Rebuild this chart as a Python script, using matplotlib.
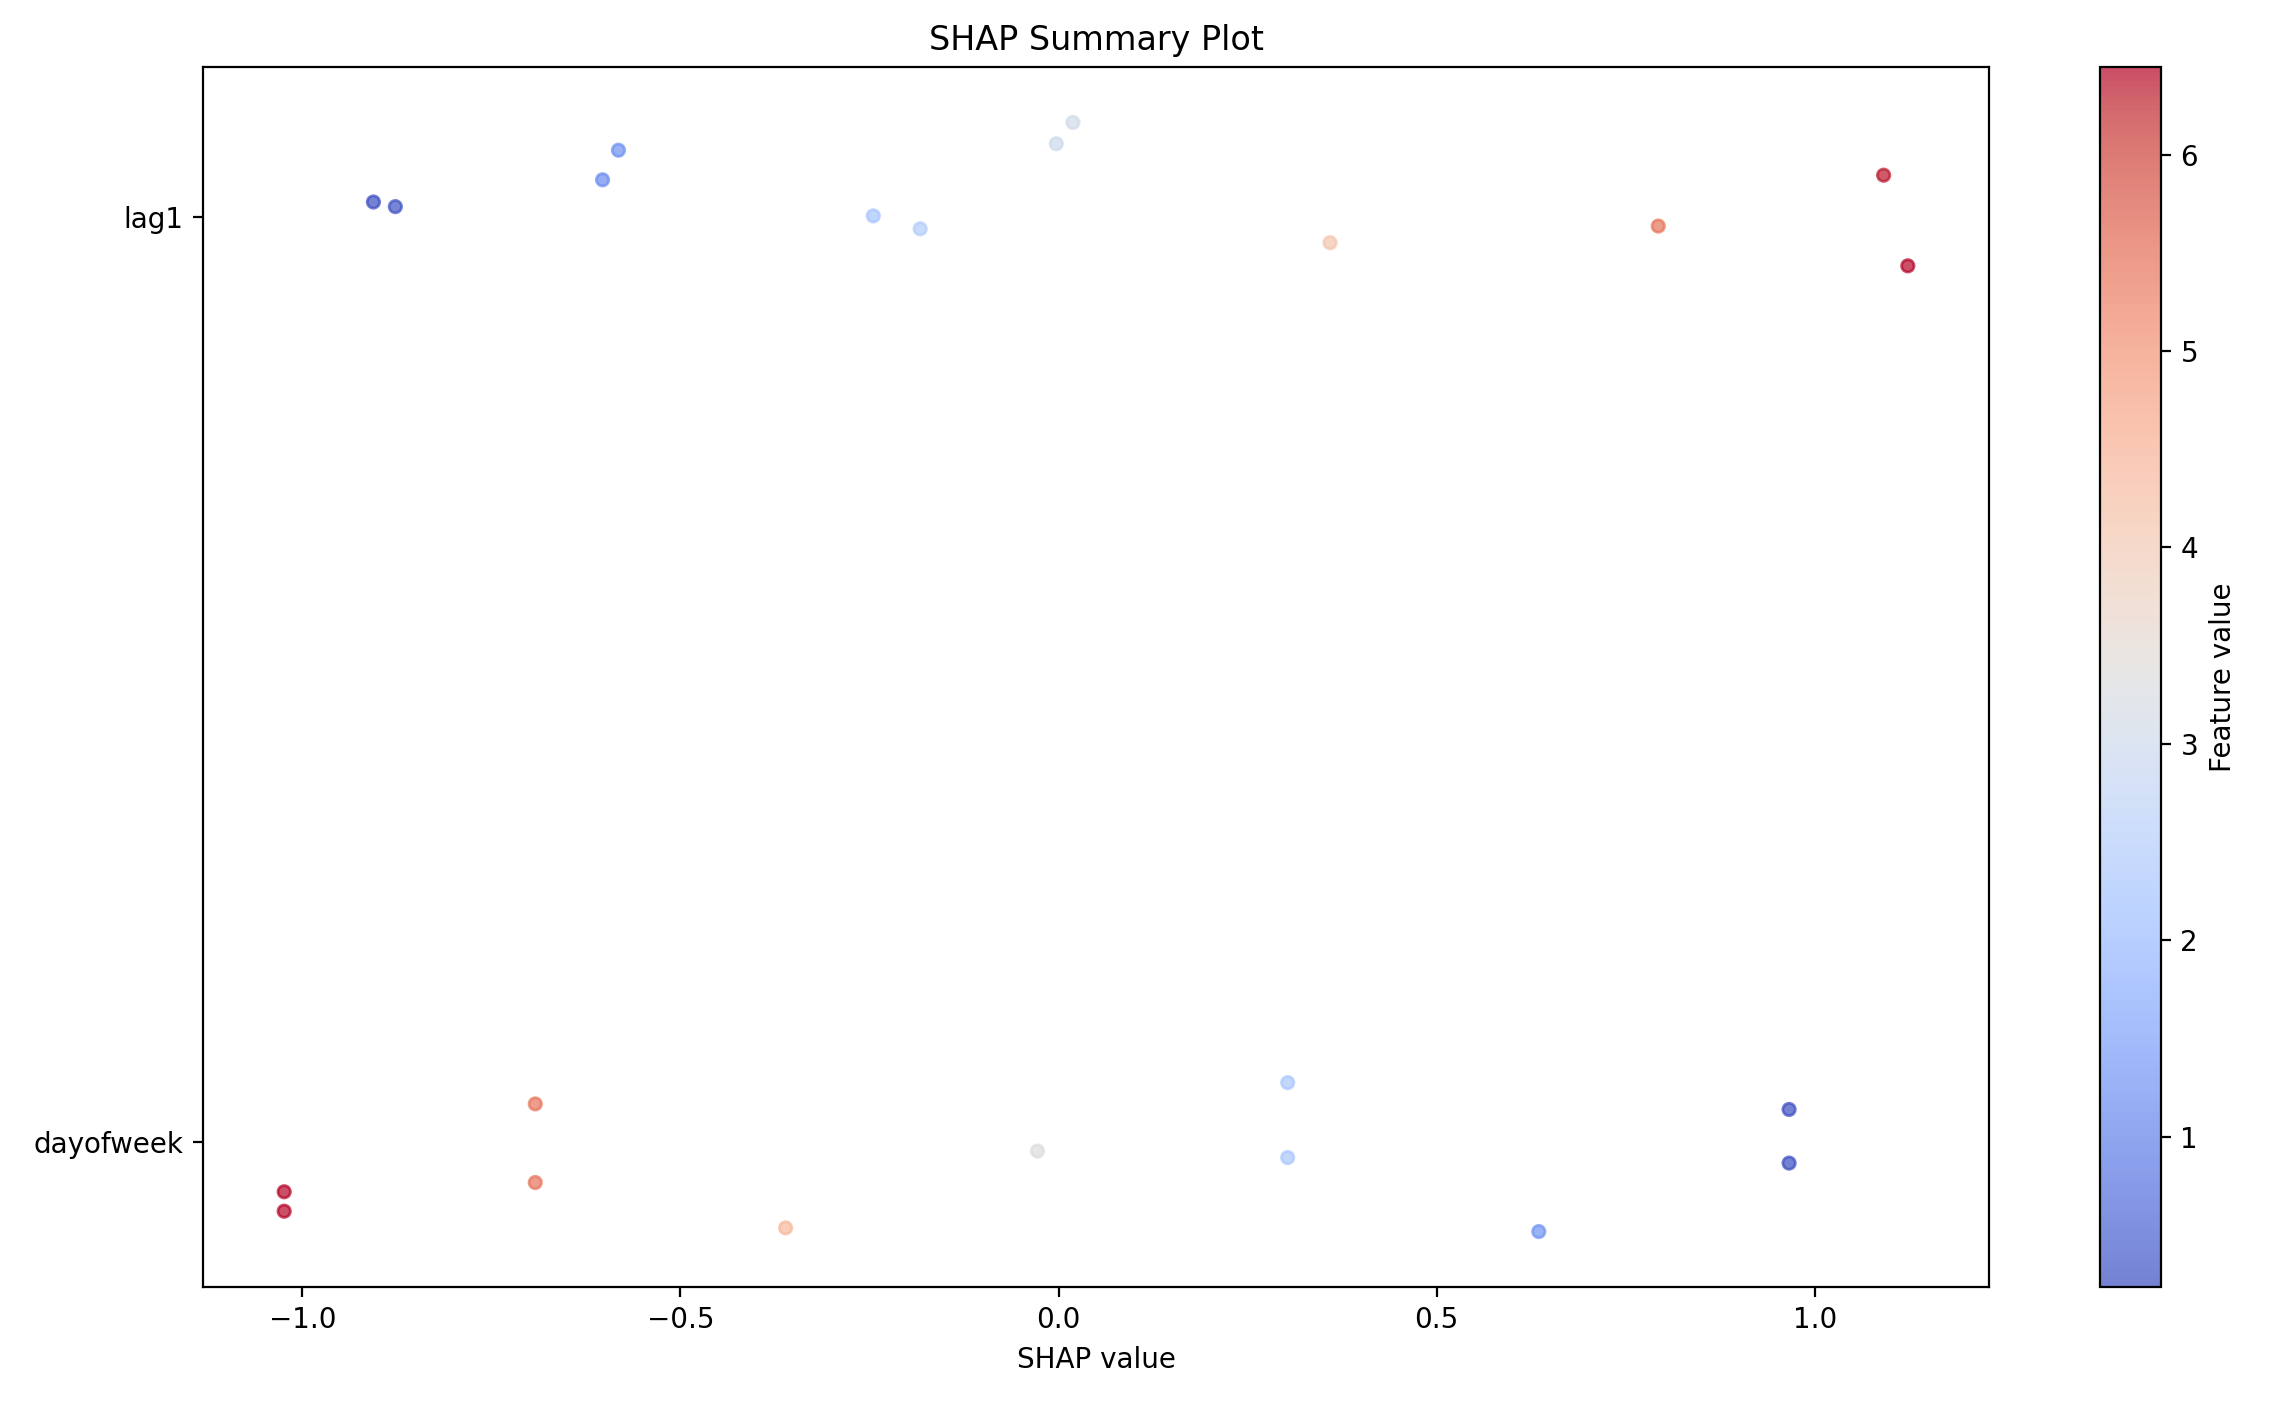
import matplotlib
matplotlib.use("Agg")
import matplotlib.pyplot as plt
import numpy as np

features = ["dayofweek", "lag1"]

# dayofweek feature
dow_shap = [-1.024, -1.024, -0.692, -0.692, -0.361, -0.028, 0.303, 0.303, 0.635, 0.966, 0.966]
dow_jitter = [-0.054, -0.075, 0.041, -0.044, -0.093, -0.010, 0.064, -0.017, -0.097, 0.035, -0.023]
dow_value = [6, 6, 5, 5, 4, 3, 2, 2, 1, 0, 0]

# lag1 feature
lag1_shap = [-0.906, -0.877, -0.603, -0.582, -0.245, -0.183, -0.003, 0.019, 0.359, 0.793, 1.091, 1.123]
lag1_jitter = [0.016, 0.011, 0.040, 0.072, 0.001, -0.013, 0.079, 0.102, -0.028, -0.010, 0.045, -0.053]
lag1_value = [0.234, 0.323, 1.162, 1.226, 2.258, 2.448, 2.999, 3.065, 4.107, 5.436, 6.349, 6.447]

W, H = 2273, 1415
fig = plt.figure(figsize=(W / 200, H / 200), dpi=200)
ax = fig.add_axes([203 / W, (H - 1287) / H, (1989 - 203) / W, (1287 - 67) / H])
cax = fig.add_axes([2100 / W, (H - 1287) / H, 61 / W, (1287 - 67) / H])

series = [
    (dow_shap, dow_jitter, dow_value),
    (lag1_shap, lag1_jitter, lag1_value),
]
sc = None
for i, (sv, jit, val) in enumerate(series):
    y = i + np.asarray(jit)
    sc = ax.scatter(sv, y, c=val, cmap="coolwarm", alpha=0.7, s=20)

ax.set_yticks(range(len(features)))
ax.set_yticklabels(features)
ax.set_xlabel("SHAP value")
ax.set_title("SHAP Summary Plot")

cb = fig.colorbar(sc, cax=cax)
cb.set_label("Feature value")

fig.savefig("out.png", dpi=200)
